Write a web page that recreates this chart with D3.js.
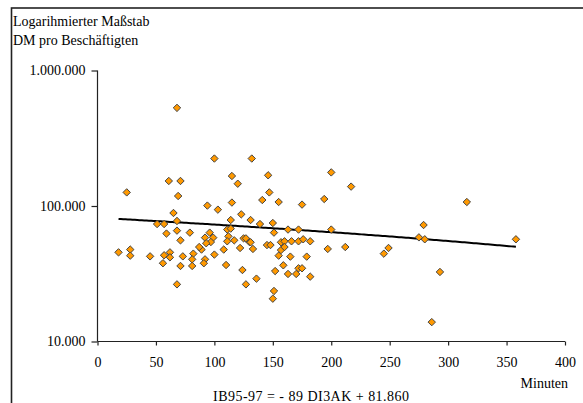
<!DOCTYPE html>
<html><head><meta charset="utf-8">
<script src="https://cdn.jsdelivr.net/npm/d3@7"></script>
<style>
html,body{margin:0;padding:0;background:#fff;}
svg{display:block;}
text{font-family:"Liberation Serif","Times New Roman",serif;font-size:14px;fill:#000;}
</style></head>
<body><svg id="c" width="583" height="403"></svg>
<script>
// Minutes (DI3AK)
const minutes = [68,100,132,115,120,61,71,25,69,94,103,115,65,123,68,114,131,146,200,217,147,141,155,175,194,316,
51,57,59,68,79,71,96,92,99,111,114,112,97,93,111,117,125,127,130,122,108,100,89,87,82,81,92,91,81,71,73,62,62,57,56,45,28,28,18,
110,124,127,68,139,150,151,163,172,200,131,133,145,148,157,160,166,172,176,182,157,160,155,165,179,197,212,245,249,
159,152,163,170,172,175,182,136,151,150,279,275,280,358,293,286];
// DM pro Beschäftigten (IB95-97)
const dmPerEmployee = [530000,224000,224000,166500,146000,153000,153000,126000,118500,100700,94000,106000,88800,86800,77500,78800,78800,168500,177000,139000,126000,110700,107000,102400,112600,107000,
73600,73600,62600,65800,63600,55800,63600,58400,58400,67000,68100,59700,54200,53100,54900,55800,57700,57700,54200,49000,47700,43800,47700,49800,44500,40400,40400,37800,36100,36100,42500,45500,41800,43300,37800,42500,47700,43000,45500,
36700,33700,26400,26400,73600,74900,63600,67000,67000,67000,54000,48200,51500,51500,54000,54900,54900,54900,56800,54900,47300,49800,43000,42300,42300,48200,49800,44500,49000,
36500,33100,31500,31500,34700,34700,30100,29100,23600,20700,72400,58700,56800,56800,32600,13900];
const xTicks = [0,50,100,150,200,250,300,350,400];
const yTicks = [10000,100000,1000000];
const trendSlope = -89, trendIntercept = 81860, trendFrom = 18, trendTo = 358;
const titleLines = ["Logarihmierter Maßstab","DM pro Beschäftigten"];
const xTitle = "Minuten";
const equation = "IB95-97 = - 89 DI3AK + 81.860";

const svg = d3.select("#c");
const de = d3.formatLocale({decimal:",",thousands:".",grouping:[3],currency:["","€"]});
const fmt = de.format(",d");
const FF = "'Liberation Serif','Times New Roman',serif";

const x = d3.scaleLinear().domain([0,400]).range([97.5,565]);
const y = d3.scaleLog().domain([10000,1000000]).range([341.5,70.5]);

// frame
svg.append("rect").attr("x",11.5).attr("y",8).attr("width",640).attr("height",460)
  .attr("fill","none").attr("stroke","#222").attr("stroke-width",1.6);

// titles
svg.selectAll("text.title").data(titleLines).join("text").attr("class","title")
  .attr("x",13).attr("y",(d,i)=>26+i*19).attr("font-size",14).text(d=>d);

// axes
const yAxis = svg.append("g").attr("transform","translate(97.5,0)")
  .call(d3.axisLeft(y).tickValues(yTicks).tickFormat(fmt).tickSize(6).tickPadding(6));
const xAxis = svg.append("g").attr("transform","translate(0,341.5)")
  .call(d3.axisBottom(x).tickValues(xTicks).tickFormat(d3.format("d")).tickSize(4).tickPadding(12));
[yAxis,xAxis].forEach(g=>{
  g.select(".domain").attr("stroke","#222").attr("stroke-width",1.2);
  g.selectAll(".tick line").attr("stroke","#222").attr("stroke-width",1.2);
  g.selectAll("text").attr("font-family",FF).attr("fill","#000");
});
yAxis.selectAll("text").attr("font-size",14.5);
xAxis.selectAll("text").attr("font-size",14);
yAxis.select(".domain").attr("d",`M0,${y(1000000)}V${y(10000)}`);
xAxis.select(".domain").attr("d",`M${x(0)},0H${x(400)}`);

// trend line
const trend = d3.range(trendFrom, trendTo+0.001, 2).map(v=>[v, trendIntercept + trendSlope*v]);
svg.append("path").datum(trend)
  .attr("d", d3.line().x(d=>x(d[0])).y(d=>y(d[1])))
  .attr("fill","none").attr("stroke","#000").attr("stroke-width",2);

// points
const r = 3.7;
const pts = minutes.map((m,i)=>({m, v:dmPerEmployee[i]}));
svg.append("g").selectAll("path").data(pts).join("path")
  .attr("transform",d=>`translate(${x(d.m)},${y(d.v)})`)
  .attr("d",`M0,${-r}L${r},0L0,${r}L${-r},0Z`)
  .attr("fill","#FF9900").attr("stroke","#444").attr("stroke-width",1);

// axis titles
svg.append("text").attr("x",568).attr("y",388).attr("text-anchor","end").attr("font-size",14).text(xTitle);
svg.append("text").attr("x",213).attr("y",400.5).attr("font-size",15.5)
  .attr("textLength",196).attr("lengthAdjust","spacing").text(equation);
</script></body></html>
